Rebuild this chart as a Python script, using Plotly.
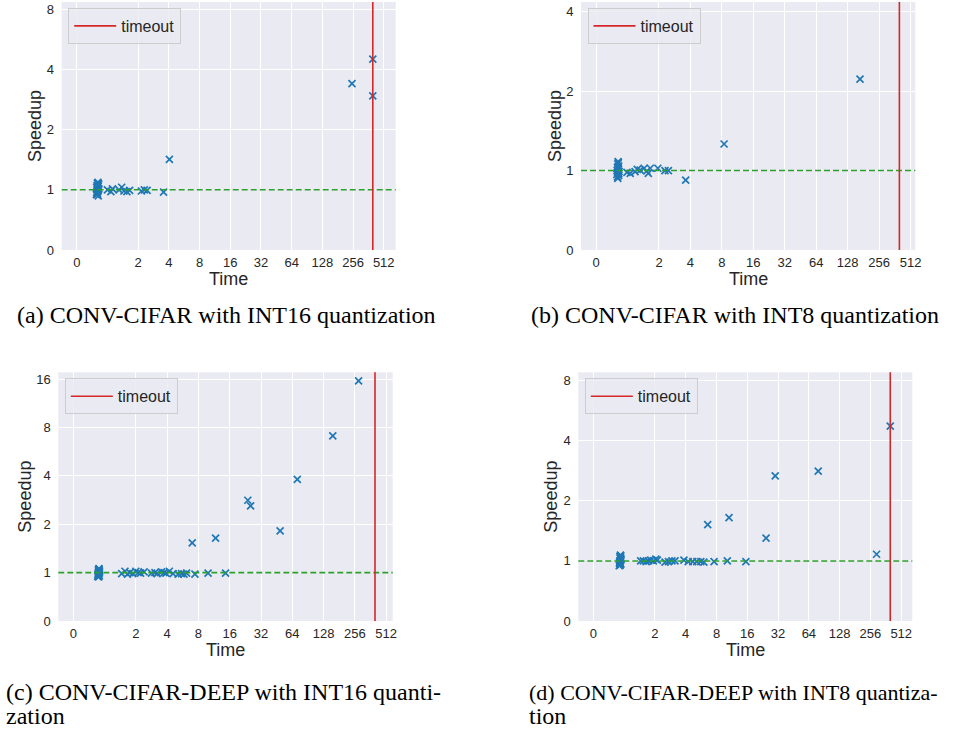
import numpy as np
import plotly.graph_objects as go

# ---------------- data (Time [s], Speedup) ----------------
TIMEOUT = 400

a_time = [0.64, 0.65, 0.66, 0.66, 0.67, 0.67, 0.68, 0.68, 0.69, 0.69, 0.70, 0.70, 0.71, 0.72, 0.65, 0.67, 0.69, 0.71,
          1.0, 1.08, 1.12, 1.3, 1.38, 1.45, 1.55, 1.65, 2.15, 2.3, 2.45, 3.55, 4.05, 250, 400, 400]
a_speedup = [0.92, 0.95, 1.00, 1.05, 0.97, 1.08, 0.93, 1.02, 1.09, 0.98, 1.04, 0.90, 1.06, 1.01, 1.03, 0.96, 1.00, 1.07,
             1.0, 0.97, 1.01, 1.0, 1.03, 0.98, 0.97, 0.99, 0.98, 1.0, 0.99, 0.96, 1.42, 3.4, 4.5, 2.95]

b_time = [0.66, 0.67, 0.68, 0.68, 0.69, 0.70, 0.70, 0.71, 0.72, 0.72, 0.73, 0.69, 0.71, 0.70, 0.68, 0.72,
          0.98, 1.06, 1.18, 1.24, 1.32, 1.44, 1.53, 1.58, 1.65, 1.95, 2.28, 2.46, 3.6, 8.4, 168]
b_speedup = [0.95, 1.00, 1.03, 0.92, 1.06, 0.97, 1.08, 1.01, 0.94, 1.04, 0.99, 0.90, 1.07, 1.02, 0.98, 0.96,
             0.977, 0.965, 0.985, 1.01, 1.004, 1.02, 0.994, 0.965, 1.02, 1.02, 0.998, 0.998, 0.88, 1.26, 2.22]

c_time = [0.78, 0.79, 0.80, 0.80, 0.81, 0.81, 0.82, 0.82, 0.83, 0.83, 0.84, 0.79, 0.81, 0.83, 0.80, 0.82,
          1.46, 1.57, 1.66, 1.75, 1.87, 2.0, 2.11, 2.22, 2.40, 2.83, 3.05, 3.20, 3.53, 3.73, 3.89, 4.2, 4.56,
          5.1, 5.5, 5.8, 6.15, 7.4, 9.9, 14.6,
          6.97, 11.7, 23.9, 25.4, 48.9, 71.5, 157, 278]
c_speedup = [0.92, 0.95, 1.00, 1.04, 0.97, 1.02, 0.93, 1.05, 0.99, 0.94, 1.01, 0.97, 0.91, 1.03, 0.96, 1.06,
             0.98, 1.02, 0.97, 1.0, 0.98, 1.02, 1.0, 0.99, 1.01, 0.99, 1.0, 0.98, 1.01, 1.0, 0.99, 1.02, 0.98,
             0.97, 0.98, 0.97, 0.99, 0.97, 0.99, 0.99,
             1.53, 1.64, 2.82, 2.60, 1.82, 3.8, 7.1, 15.6]

d_time = [0.84, 0.85, 0.86, 0.86, 0.87, 0.87, 0.88, 0.88, 0.89, 0.89, 0.90, 0.85, 0.87, 0.89, 0.86, 0.88,
          1.45, 1.54, 1.64, 1.73, 1.82, 1.93, 2.04, 2.11, 2.51, 2.71, 2.93, 3.14, 3.84, 4.23, 4.69, 5.13,
          5.62, 6.02, 7.57, 10.2, 15.5,
          6.56, 10.6, 24.4, 30.0, 79, 294, 400]
d_speedup = [0.92, 0.96, 1.00, 1.05, 0.98, 1.03, 0.94, 1.07, 1.01, 0.95, 1.02, 0.97, 0.93, 1.06, 0.99, 1.04,
             1.0, 1.0, 0.99, 1.0, 1.01, 1.0, 1.02, 1.01, 0.98, 0.99, 1.0, 1.0, 1.01, 0.99, 0.99, 0.99,
             0.99, 0.98, 0.99, 1.0, 0.99,
             1.52, 1.65, 1.30, 2.67, 2.82, 1.08, 4.74]

x_ticks = [0, 2, 4, 8, 16, 32, 64, 128, 256, 512]
a_y_ticks = [0, 1, 2, 4, 8]
b_y_ticks = [0, 1, 2, 4]
c_y_ticks = [0, 1, 2, 4, 8, 16]
d_y_ticks = [0, 1, 2, 4, 8]

captions = {
    "a": ["(a) CONV-CIFAR with INT16 quantization"],
    "b": ["(b) CONV-CIFAR with INT8 quantization"],
    "c": ["(c) CONV-CIFAR-DEEP with INT16 quanti-", "zation"],
    "d": ["(d) CONV-CIFAR-DEEP with INT8 quantiza-", "tion"],
}


# symmetric log (base 2, linthresh 1, linear part of one decade)
def symlog2(v):
    v = np.asarray(v, dtype=float)
    return np.where(v <= 1, v, 1 + np.log2(np.maximum(v, 1)))


W, H = 965, 731

# plot-area pixel boxes (left, right, top, bottom) and ranges in transformed units
panels = [
    dict(key="a", t=a_time, s=a_speedup, yt=a_y_ticks, box=(61.7, 395.7, 2, 250), xr=(-0.49, 10.39), yr=(0, 4.12),
         ylab_x=35, cap_x=15, cap_y=[315], cap_size=[24]),
    dict(key="b", t=b_time, s=b_speedup, yt=b_y_ticks, box=(581, 915.3, 2, 250), xr=(-0.48, 10.15), yr=(0, 3.12),
         ylab_x=555, cap_x=529, cap_y=[315], cap_size=[24]),
    dict(key="c", t=c_time, s=c_speedup, yt=c_y_ticks, box=(58.3, 392.7, 372.3, 621), xr=(-0.48, 10.21), yr=(0, 5.14),
         ylab_x=25, cap_x=4, cap_y=[692, 716], cap_size=[24, 24]),
    dict(key="d", t=d_time, s=d_speedup, yt=d_y_ticks, box=(578.3, 912.3, 372.3, 621), xr=(-0.49, 10.36), yr=(0, 4.14),
         ylab_x=551, cap_x=527, cap_y=[692, 716], cap_size=[22, 24]),
]

TXT = "#262626"
SANS = "Liberation Sans, Arial, sans-serif"
fig = go.Figure()
layout = dict(width=W, height=H, margin=dict(l=0, r=0, t=0, b=0, autoexpand=False), paper_bgcolor="white",
              plot_bgcolor="#EAEAF2", showlegend=True)
annotations = []
shapes = []

for i, p in enumerate(panels, start=1):
    sfx = "" if i == 1 else str(i)
    xa, ya = "x" + sfx, "y" + sfx
    lg = "legend" + sfx
    l, r, t, b = p["box"]
    xdom = [l / W, r / W]
    ydom = [(H - b) / H, (H - t) / H]

    fig.add_trace(go.Scatter(
        x=symlog2(p["t"]), y=symlog2(p["s"]), mode="markers", xaxis=xa, yaxis=ya,
        marker=dict(symbol="x-thin", size=7, color="#1f77b4", line=dict(width=1.7, color="#1f77b4")),
        showlegend=False, hoverinfo="skip"))
    # legend entry for timeout line
    fig.add_trace(go.Scatter(x=[None], y=[None], mode="lines", xaxis=xa, yaxis=ya, name="timeout",
                             line=dict(color="#d62728", width=1.6), legend=lg, showlegend=True))

    # baseline speedup = 1 (dashed green) and timeout (red)
    shapes.append(dict(type="line", xref=xa + " domain", yref=ya, x0=0, x1=1,
                       y0=float(symlog2(1)), y1=float(symlog2(1)),
                       line=dict(color="#2ca02c", width=1.6, dash="6px,3px"), layer="above"))
    shapes.append(dict(type="line", xref=xa, yref=ya + " domain", x0=float(symlog2(TIMEOUT)),
                       x1=float(symlog2(TIMEOUT)), y0=0, y1=1,
                       line=dict(color="#d62728", width=1.6), layer="above"))

    layout["xaxis" + sfx] = dict(
        domain=xdom, anchor=ya, range=list(p["xr"]), tickvals=symlog2(x_ticks).tolist(),
        ticktext=[str(v) for v in x_ticks], showgrid=True, gridcolor="white", gridwidth=1,
        zeroline=False, showline=False, ticks="outside", ticklen=0.5, tickcolor="rgba(0,0,0,0)",
        automargin=False, tickfont=dict(family=SANS, size=13, color=TXT))
    layout["yaxis" + sfx] = dict(
        domain=ydom, anchor=xa, range=list(p["yr"]), tickvals=symlog2(p["yt"]).tolist(),
        ticktext=[str(v) for v in p["yt"]], showgrid=True, gridcolor="white", gridwidth=1,
        zeroline=False, showline=False, ticks="outside", ticklen=4, tickcolor="rgba(0,0,0,0)",
        automargin=False, tickfont=dict(family=SANS, size=13, color=TXT))
    layout[lg] = dict(x=(l + 6.5) / W, y=(H - t - 6) / H, xanchor="left", yanchor="top",
                      bgcolor="rgba(234,234,242,0.8)", bordercolor="#cccccc", borderwidth=1,
                      itemwidth=42, font=dict(family=SANS, size=16, color=TXT))

    # axis titles
    annotations.append(dict(text="Time", xref="paper", yref="paper", x=(l + r) / 2 / W,
                            y=(H - (b + 29)) / H, xanchor="center", yanchor="middle", showarrow=False,
                            font=dict(family=SANS, size=18, color=TXT)))
    annotations.append(dict(text="Speedup", xref="paper", yref="paper", x=p["ylab_x"] / W,
                            y=(H - (t + b) / 2) / H, xanchor="center", yanchor="middle", showarrow=False,
                            textangle=-90, font=dict(family=SANS, size=18, color=TXT)))
    # captions
    for line, cy, cs in zip(captions[p["key"]], p["cap_y"], p["cap_size"]):
        annotations.append(dict(text=line, xref="paper", yref="paper", x=p["cap_x"] / W, y=(H - cy) / H,
                                xanchor="left", yanchor="middle", showarrow=False,
                                font=dict(family="Liberation Serif, DejaVu Serif, serif", size=cs,
                                          color="black")))

layout["annotations"] = annotations
layout["shapes"] = shapes
fig.update_layout(**layout)
fig.write_html("out.html", config={"displayModeBar": False},
               post_script="document.body.style.margin='0px';document.body.style.overflow='hidden';")
